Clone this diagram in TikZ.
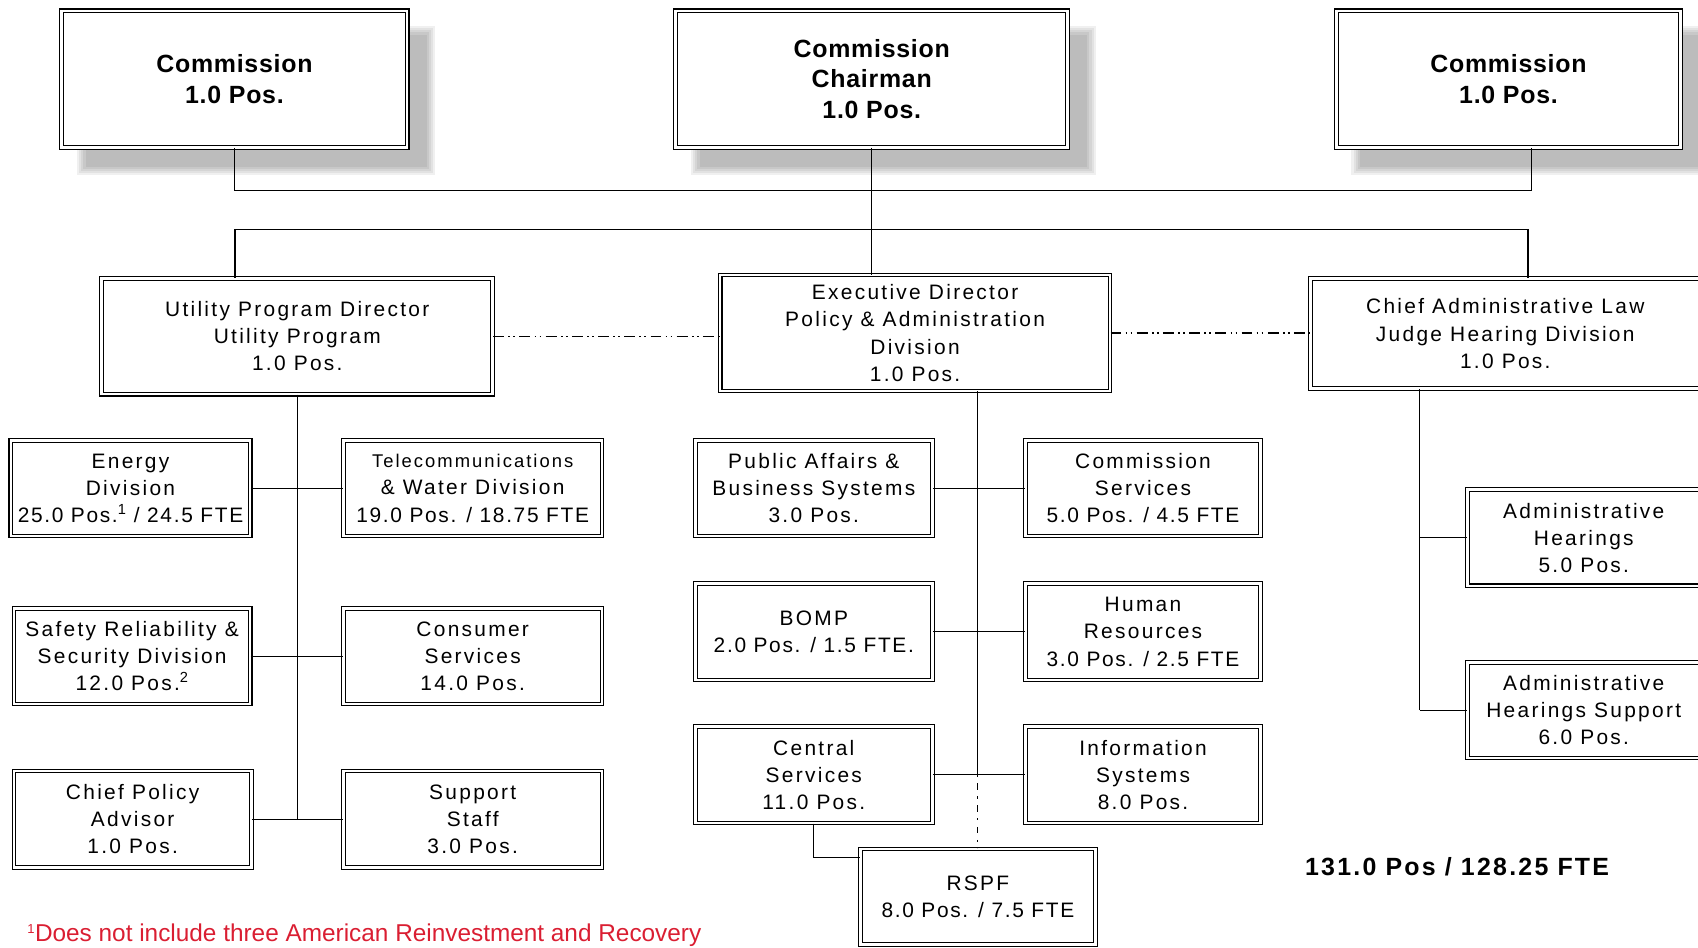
\documentclass[tikz,border=0pt]{standalone}
\usepackage{fontspec}
\setmainfont{Liberation Sans}
\newfontfamily\labfont[LetterSpace=11]{Liberation Sans}
\newfontfamily\numfont[LetterSpace=8]{Liberation Sans}
\newfontfamily\headfont[LetterSpace=3]{Liberation Sans}
\newfontfamily\totfont[LetterSpace=9]{Liberation Sans}
\definecolor{footred}{RGB}{218,30,50}

\tikzset{
  unit/.style={draw=black, line width=1pt, double=white, double distance=2.4pt,
    fill=white, inner sep=0pt, align=center,
    font=\labfont\fontsize{19.3}{25}\selectfont},
  head/.style={unit, font=\headfont\bfseries\fontsize{23}{28.5}\selectfont},
  link/.style={line width=1.1pt},
  liaison/.style={line width=1.1pt, dash pattern=on 10pt off 4pt on 1.6pt off 3pt on 1.6pt off 4pt},
  staffline/.style={line width=1.1pt, dash pattern=on 2pt off 6pt on 6pt off 6pt},
}

\begin{document}
\begin{tikzpicture}[x=1pt, y=-1pt]
\useasboundingbox (0,0) rectangle (1568,875);

% soft drop shadows behind the three commission boxes
\foreach \xa/\ya/\xb/\yb in {55/8/378/138, 622/8/988/138, 1232/8/1554/138} {
  \foreach \d in {0,2,4,6,8} {
    \fill[black, opacity=0.06] (\xa+24-\d, \ya+24-\d) rectangle (\xb+16+\d, \yb+16+\d);
  }
}

% commission
\node[head, minimum width=319pt, minimum height=126pt] (lcomm) at (216.5,73) {Commission\\ 1.0 Pos.};
\node[head, minimum width=362pt, minimum height=126pt] (chair) at (805,73) {Commission\\ Chairman\\ 1.0 Pos.};
\node[head, minimum width=318pt, minimum height=126pt] (rcomm) at (1393,73) {Commission\\ 1.0 Pos.};

% division heads
\node[unit, minimum width=361pt, minimum height=107pt] (util) at (274.5,310.5) {Utility Program Director\\ Utility Program\\ 1.0 Pos.};
\node[unit, minimum width=360pt, minimum height=107pt] (exec) at (845,307.5) {Executive Director\\ Policy \& Administration\\ Division\\ 1.0 Pos.};
\node[unit, minimum width=360pt, minimum height=102pt] (alj) at (1390,308) {Chief Administrative Law\\ Judge Hearing Division\\ 1.0 Pos.};

% utility program units
\node[unit, minimum width=221pt, minimum height=88pt] (energy) at (120.5,451) {Energy\\ Division\\ {\numfont 25.0 Pos.\textsuperscript{1} / 24.5 FTE}};
\node[unit, minimum width=239pt, minimum height=88pt] (telecom) at (436.5,451) {{\fontsize{17}{22}\selectfont Telecommunications}\\ \& Water Division\\ {\numfont 19.0 Pos. / 18.75 FTE}};
\node[unit, minimum width=218pt, minimum height=88pt] (safety) at (122,606) {Safety Reliability \&\\ Security Division\\ 12.0 Pos.\textsuperscript{2}};
\node[unit, minimum width=239pt, minimum height=88pt] (consumer) at (436.5,606) {Consumer\\ Services\\ 14.0 Pos.};
\node[unit, minimum width=219pt, minimum height=89pt] (policy) at (122.5,756.5) {Chief Policy\\ Advisor\\ 1.0 Pos.};
\node[unit, minimum width=239pt, minimum height=89pt] (support) at (436.5,756.5) {Support\\ Staff\\ 3.0 Pos.};

% policy & administration units
\node[unit, minimum width=219pt, minimum height=88pt] (pubaff) at (751.5,451) {Public Affairs \&\\ Business Systems\\ 3.0 Pos.};
\node[unit, minimum width=217pt, minimum height=88pt] (comserv) at (1055.5,451) {Commission\\ Services\\ {\numfont 5.0 Pos. / 4.5 FTE}};
\node[unit, minimum width=219pt, minimum height=89pt] (bomp) at (751.5,583.5) {BOMP\\ {\numfont 2.0 Pos. / 1.5 FTE.}};
\node[unit, minimum width=217pt, minimum height=89pt] (hr) at (1055.5,583.5) {Human\\ Resources\\ {\numfont 3.0 Pos. / 2.5 FTE}};
\node[unit, minimum width=219pt, minimum height=89pt] (central) at (751.5,715.5) {Central\\ Services\\ 11.0 Pos.};
\node[unit, minimum width=217pt, minimum height=89pt] (infosys) at (1055.5,715.5) {Information\\ Systems\\ 8.0 Pos.};
\node[unit, minimum width=217pt, minimum height=88pt] (rspf) at (903,828) {RSPF\\ {\numfont 8.0 Pos. / 7.5 FTE}};

% hearing division units
\node[unit, minimum width=215pt, minimum height=89pt] (ah) at (1462.5,496.5) {Administrative\\ Hearings\\ 5.0 Pos.};
\node[unit, minimum width=215pt, minimum height=88pt] (ahs) at (1462.5,656) {Administrative\\ Hearings Support\\ 6.0 Pos.};

% totals and footnote
\node[anchor=west, inner sep=0pt, font=\totfont\bfseries\fontsize{23}{27}\selectfont] (total) at (1205,800) {131.0 Pos / 128.25 FTE};
\node[anchor=base west, inner sep=0pt, text=footred, font=\fontsize{22.5}{27}\selectfont] (note) at (25,869.5) {\textsuperscript{\fontsize{12}{12}\selectfont 1}Does not include three American Reinvestment and Recovery};

% bus lines below the commission
\coordinate (busA) at (0,176);
\coordinate (busB) at (0,212);
\coordinate (rcommtap) at ([xshift=21pt]rcomm.south);
\coordinate (utap) at ([xshift=-57.5pt]util.north);
\coordinate (atap) at ([xshift=21pt]alj.north);
\draw[link] (lcomm.south) |- (busA -| rcommtap) -- (rcommtap);
\draw[link] (utap) |- (busB -| atap) -- (atap);
\draw[link] (chair.south) -- (chair.south |- exec.north);

% liaison lines between division heads
\draw[liaison] (util.east) -- (util.east -| exec.west);
\draw[liaison] (exec.east) -- (exec.east -| alj.west);

% utility program tree
\draw[link] (util.south) -- (util.south |- policy.east);
\draw[link] (energy.east) -- (telecom.west);
\draw[link] (safety.east) -- (consumer.west);
\draw[link] (policy.east) -- (support.west);

% policy & administration tree
\coordinate (etap) at ([xshift=58pt]exec.south);
\draw[link] (etap) -- (etap |- central.east);
\draw[link] (pubaff.east) -- (comserv.west);
\draw[link] (bomp.east) -- (hr.west);
\draw[link] (central.east) -- (infosys.west);
\draw[staffline] (etap |- central.east) -- (rspf.north);
\coordinate (rtap) at ([yshift=-8pt]rspf.north west);
\draw[link] (central.south) |- (rtap);

% hearing division tree
\coordinate (jtap) at ([xshift=-79pt]alj.south);
\draw[link] (jtap) -- (jtap |- ahs.west);
\draw[link] (jtap |- ah.west) -- (ah.west);
\draw[link] (jtap |- ahs.west) -- (ahs.west);
\end{tikzpicture}
\end{document}
